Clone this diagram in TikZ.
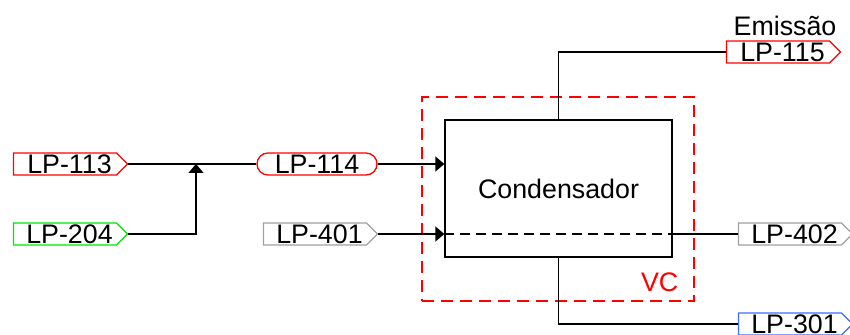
\documentclass[tikz,border=0pt]{standalone}
\usepackage{fontspec}
\setmainfont{Liberation Sans}
\usepackage{tikz}
\usetikzlibrary{arrows.meta, positioning, shapes, calc}
\usepackage{xcolor}
\definecolor{tagred}{RGB}{255,0,0}
\definecolor{taggreen}{RGB}{0,230,0}
\definecolor{taggray}{RGB}{160,160,160}
\definecolor{tagblue}{RGB}{60,110,255}

\begin{document}
\begin{tikzpicture}[
  x=0.5pt, y=-0.5pt,
  tag/.style={signal, signal to=east, draw, line width=0.65pt, inner sep=0pt,
    minimum width=57pt, minimum height=11pt, font=\fontsize{13.4}{14}\selectfont,
    execute at begin node=\hspace{4.5pt}},
  pill/.style={rounded rectangle, draw, line width=0.65pt, inner sep=0pt,
    minimum width=60pt, minimum height=11pt, font=\fontsize{13.4}{14}\selectfont},
  block/.style={rectangle, draw, line width=0.65pt, minimum width=113.5pt,
    minimum height=68.5pt, font=\fontsize{13.4}{14}\selectfont},
  flow/.style={-{Triangle[length=4.5pt, width=7.5pt]}, line width=0.7pt},
  line/.style={line width=0.65pt}
]
\useasboundingbox (0,0) rectangle (850,335);
% Streams in
\node[tag, draw=tagred] (l113) at (65,164) {LP-113};
\node[tag, draw=taggreen] (l204) at (65,234) {LP-204};
\node[pill, draw=tagred] (l114) at (317,164) {LP-114};
\node[tag, draw=taggray] (l401) at (315,234) {LP-401};

% Condenser and control volume
\node[block] (cond) at (558.5,188.5) {Condensador};
\node[rectangle, draw=tagred, dash pattern=on 6pt off 3.5pt, line width=1.4pt,
  minimum width=136pt, minimum height=102pt] (vc) at (558,199) {};
\node[text=tagred, font=\fontsize{13.4}{14}\selectfont, anchor=south east]
  (vclab) at ($(vc.south east)+(-10,-4)$) {VC};

% Streams out
\node[tag, draw=tagred] (l115) at (778,52) {LP-115};
\node[font=\fontsize{13.4}{14}\selectfont, above=-1pt of l115, xshift=3.5pt] (emis) {Emissão};
\node[tag, draw=taggray] (l402) at (790,234) {LP-402};
\node[tag, draw=tagblue] (l301) at (790,324) {LP-301};

% Connections
\coordinate (mix) at (196,164);
\coordinate (in401) at (cond.west |- l401.east);
\coordinate (out402) at (cond.east |- l402.west);
\draw[line] (l113.east) -- (l114.west);
\draw[flow] (l204.east) -| (mix);
\draw[flow] (l114.east) -- (cond.west |- l114.east);
\draw[flow] (l401.east) -- (in401);
\draw[line, line width=1.2pt, dash pattern=on 5pt off 3pt] (in401) -- (out402);
\draw[line] (out402) -- (l402.west);
\draw[line] (cond.north) |- (l115.west);
\draw[line] (cond.south) |- (l301.west);
\end{tikzpicture}
\end{document}
